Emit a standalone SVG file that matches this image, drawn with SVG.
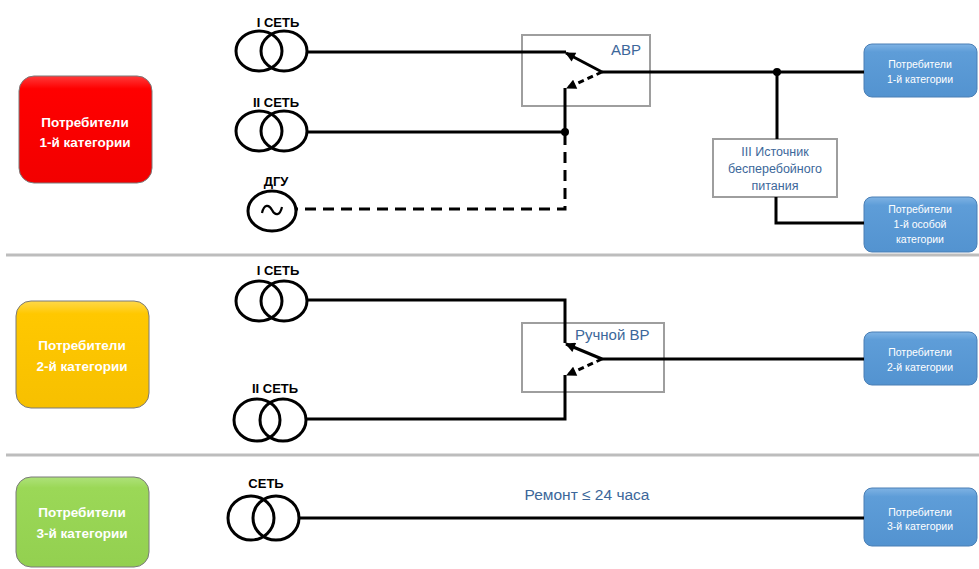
<svg xmlns="http://www.w3.org/2000/svg" width="979" height="569" viewBox="0 0 979 569">
<defs>
  <linearGradient id="gRed" x1="0" y1="0" x2="0" y2="1">
    <stop offset="0" stop-color="#ff3a3a"/><stop offset="0.12" stop-color="#ff0000"/><stop offset="1" stop-color="#f20000"/>
  </linearGradient>
  <linearGradient id="gYel" x1="0" y1="0" x2="0" y2="1">
    <stop offset="0" stop-color="#ffd84a"/><stop offset="0.12" stop-color="#ffc800"/><stop offset="1" stop-color="#f7c000"/>
  </linearGradient>
  <linearGradient id="gGrn" x1="0" y1="0" x2="0" y2="1">
    <stop offset="0" stop-color="#aee27a"/><stop offset="0.12" stop-color="#9bd857"/><stop offset="1" stop-color="#93d050"/>
  </linearGradient>
  <linearGradient id="gBlu" x1="0" y1="0" x2="0" y2="1">
    <stop offset="0" stop-color="#7fb3e4"/><stop offset="0.15" stop-color="#5e9dd8"/><stop offset="1" stop-color="#5393d0"/>
  </linearGradient>
  <marker id="arr" viewBox="0 0 10 10" refX="9" refY="5" markerWidth="12" markerHeight="10" markerUnits="userSpaceOnUse" orient="auto">
    <path d="M0,0 L10,5 L0,10 z" fill="#000"/>
  </marker>
</defs>
<style>
  .sep{stroke:#bdbdbd;stroke-width:3;fill:none}
  .cat{stroke:#7a7a7a;stroke-width:1}
  .cattxt{font-family:"Liberation Sans",Arial,sans-serif;font-weight:bold;font-size:13.5px;fill:#fff;text-anchor:middle}
  .blu{fill:url(#gBlu);stroke:#4a7fb5;stroke-width:1}
  .blutxt{font-family:"Liberation Sans",Arial,sans-serif;font-size:10.5px;fill:#fff;text-anchor:middle}
  .tr{fill:none;stroke:#000;stroke-width:3}
  .lbl{font-family:"Liberation Sans",Arial,sans-serif;font-weight:bold;font-size:13px;fill:#000;text-anchor:middle}
  .sw{fill:none;stroke:#9e9e9e;stroke-width:2}
  .swtxt{font-family:"Liberation Sans",Arial,sans-serif;font-size:15px;fill:#3c679a}
  .ups{fill:#fff;stroke:#9e9e9e;stroke-width:2}
  .upstxt{font-family:"Liberation Sans",Arial,sans-serif;font-size:12.5px;fill:#3c679a;text-anchor:middle}
  .w{fill:none;stroke:#000;stroke-width:3}
  .d{fill:none;stroke:#000;stroke-width:3;stroke-dasharray:11,7}
  .dd{fill:none;stroke:#000;stroke-width:3;stroke-dasharray:6,4}
  .note{font-family:"Liberation Sans",Arial,sans-serif;font-size:15.5px;fill:#3c679a;text-anchor:middle}
</style>
<rect width="979" height="569" fill="#fff"/>

<!-- separators -->
<line class="sep" x1="6" y1="255" x2="979" y2="255"/>
<line class="sep" x1="6" y1="455" x2="979" y2="455"/>

<!-- category boxes -->
<g id="cat1">
  <rect class="cat" x="19" y="76" width="133" height="107" rx="15" fill="url(#gRed)"/>
  <text class="cattxt" x="85" y="127">Потребители</text>
  <text class="cattxt" x="85" y="147">1-й категории</text>
</g>
<g id="cat2">
  <rect class="cat" x="16" y="301" width="133" height="107" rx="15" fill="url(#gYel)"/>
  <text class="cattxt" x="82" y="350">Потребители</text>
  <text class="cattxt" x="82" y="371">2-й категории</text>
</g>
<g id="cat3">
  <rect class="cat" x="16" y="477" width="133" height="90" rx="15" fill="url(#gGrn)"/>
  <text class="cattxt" x="82" y="517">Потребители</text>
  <text class="cattxt" x="82" y="538">3-й категории</text>
</g>

<!-- sources -->
<g id="net1a">
  <text class="lbl" x="278" y="27">I СЕТЬ</text>
  <ellipse class="tr" cx="259" cy="51" rx="23" ry="20"/>
  <ellipse class="tr" cx="284" cy="51" rx="23" ry="20"/>
</g>
<g id="net1b">
  <text class="lbl" x="276" y="107">II СЕТЬ</text>
  <ellipse class="tr" cx="259" cy="131" rx="23" ry="20"/>
  <ellipse class="tr" cx="284" cy="131" rx="23" ry="20"/>
</g>
<g id="dgu">
  <text class="lbl" x="276" y="186">ДГУ</text>
  <ellipse class="tr" cx="272" cy="211" rx="24" ry="20"/>
  <path class="w" style="stroke-width:2.2" d="M262,213 C264,204 269,204 272,210 C275,216 280,216 282,207"/>
</g>
<g id="net2a">
  <text class="lbl" x="278" y="275">I СЕТЬ</text>
  <ellipse class="tr" cx="259" cy="301" rx="23" ry="20"/>
  <ellipse class="tr" cx="284" cy="301" rx="23" ry="20"/>
</g>
<g id="net2b">
  <text class="lbl" x="275" y="393">II СЕТЬ</text>
  <ellipse class="tr" cx="257" cy="420" rx="23" ry="21"/>
  <ellipse class="tr" cx="283" cy="420" rx="23" ry="21"/>
</g>
<g id="net3">
  <text class="lbl" x="266" y="488">СЕТЬ</text>
  <ellipse class="tr" cx="251" cy="518" rx="23" ry="22"/>
  <ellipse class="tr" cx="276" cy="518" rx="23" ry="22"/>
</g>

<!-- switches -->
<g id="avr">
  <rect class="sw" x="522" y="35" width="128" height="71"/>
  <text class="swtxt" x="611" y="55">АВР</text>
</g>
<g id="manual">
  <rect class="sw" x="522" y="323" width="142" height="69"/>
  <text class="swtxt" x="575" y="340">Ручной ВР</text>
</g>
<g id="ups">
  <rect class="ups" x="713" y="139" width="124" height="58"/>
  <text class="upstxt" x="775" y="156">III Источник</text>
  <text class="upstxt" x="775" y="173">бесперебойного</text>
  <text class="upstxt" x="775" y="190">питания</text>
</g>

<!-- consumers -->
<g id="c1">
  <rect class="blu" x="864" y="44" width="113" height="53" rx="8"/>
  <text class="blutxt" x="920" y="68">Потребители</text>
  <text class="blutxt" x="920" y="83">1-й категории</text>
</g>
<g id="c1s">
  <rect class="blu" x="864" y="197" width="113" height="55" rx="8"/>
  <text class="blutxt" x="920" y="213">Потребители</text>
  <text class="blutxt" x="920" y="228">1-й особой</text>
  <text class="blutxt" x="920" y="243">категории</text>
</g>
<g id="c2">
  <rect class="blu" x="864" y="332" width="113" height="53" rx="8"/>
  <text class="blutxt" x="920" y="356">Потребители</text>
  <text class="blutxt" x="920" y="371">2-й категории</text>
</g>
<g id="c3">
  <rect class="blu" x="864" y="488" width="113" height="58" rx="8"/>
  <text class="blutxt" x="920" y="516">Потребители</text>
  <text class="blutxt" x="920" y="530">3-й категории</text>
</g>

<!-- connectors -->
<g id="connectors">
  <path class="w" d="M307,52 H566"/>
  <path class="w" d="M602,72 L566,53" marker-end="url(#arr)"/>
  <path class="dd" d="M602,72 L567,88" marker-end="url(#arr)"/>
  <path class="w" d="M565,88 V132"/>
  <path class="w" d="M307,132 H565"/>
  <path class="d" d="M565,134 V209 H296"/>
  <path class="w" d="M602,72 H864"/>
  <circle cx="565" cy="132" r="4" fill="#000"/>
  <circle cx="777" cy="72" r="4" fill="#000"/>
  <path class="w" d="M777,72 V139"/>
  <path class="w" d="M776,197 V223 H864"/>

  <path class="w" d="M307,300 H565 V343"/>
  <path class="w" d="M602,359 L566,344" marker-end="url(#arr)"/>
  <path class="dd" d="M602,359 L567,375" marker-end="url(#arr)"/>
  <path class="w" d="M565,375 V419 H306"/>
  <path class="w" d="M602,359 H864"/>

  <path class="w" d="M299,518 H864"/>
</g>

<text class="note" x="587" y="500">Ремонт ≤ 24 часа</text>
</svg>
